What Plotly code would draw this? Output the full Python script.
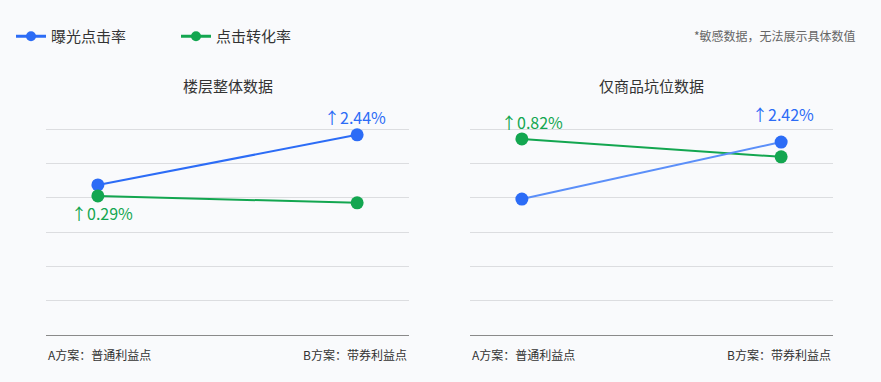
import plotly.graph_objects as go

categories = ["A方案：普通利益点", "B方案：带券利益点"]
series_names = ["曝光点击率", "点击转化率"]
# panel 1: 楼层整体数据
floor_ctr = [4.37, 5.83]
floor_cvr = [4.05, 3.85]
# panel 2: 仅商品坑位数据
item_ctr = [3.96, 5.62]
item_cvr = [5.71, 5.19]
panel_titles = ["楼层整体数据", "仅商品坑位数据"]
labels = {"floor_ctr": "↑2.44%", "floor_cvr": "↑0.29%", "item_ctr": "↑2.42%", "item_cvr": "↑0.82%"}
note = "*敏感数据，无法展示具体数值"

BLUE = "#2c6cf6"
BLUE_LIGHT = "#5b8ff9"
GREEN = "#13a650"
FONT = "Noto Sans CJK SC"
xpos = [0, 1]

fig = go.Figure()
# legend-only entries (smaller symbols)
fig.add_trace(go.Scatter(x=[None], y=[None], mode="lines+markers", name=series_names[0],
                         line=dict(color=BLUE, width=3), marker=dict(size=10, color=BLUE),
                         xaxis="x", yaxis="y", legendgroup="a"))
fig.add_trace(go.Scatter(x=[None], y=[None], mode="lines+markers", name=series_names[1],
                         line=dict(color=GREEN, width=3), marker=dict(size=10, color=GREEN),
                         xaxis="x", yaxis="y", legendgroup="b"))
fig.add_trace(go.Scatter(x=xpos, y=floor_ctr, mode="lines+markers", name=series_names[0],
                         line=dict(color=BLUE, width=2), marker=dict(size=13, color=BLUE),
                         xaxis="x", yaxis="y", legendgroup="a", showlegend=False))
fig.add_trace(go.Scatter(x=xpos, y=floor_cvr, mode="lines+markers", name=series_names[1],
                         line=dict(color=GREEN, width=2), marker=dict(size=13, color=GREEN),
                         xaxis="x", yaxis="y", legendgroup="b", showlegend=False))
fig.add_trace(go.Scatter(x=xpos, y=item_cvr, mode="lines+markers", name=series_names[1],
                         line=dict(color=GREEN, width=2), marker=dict(size=13, color=GREEN),
                         xaxis="x2", yaxis="y2", showlegend=False, legendgroup="b"))
fig.add_trace(go.Scatter(x=xpos, y=item_ctr, mode="lines+markers", name=series_names[0],
                         line=dict(color=BLUE_LIGHT, width=2), marker=dict(size=13, color=BLUE),
                         xaxis="x2", yaxis="y2", showlegend=False, legendgroup="a"))

H = 382.0
px_per_unit = (335 - 129) / 6.0
top_extra = 0.05
ydom = [(H - 335) / H, (H - 129 + top_extra * px_per_unit) / H]
axis_common = dict(range=[-0.2, 1.2], showticklabels=False, showgrid=False, zeroline=False,
                   showline=False, fixedrange=True)
yaxis_common = dict(range=[0, 6 + top_extra], dtick=1, tick0=0, showticklabels=False, showgrid=True,
                    gridcolor="#dcdde0", gridwidth=1, zeroline=True, zerolinecolor="#8a8a8a",
                    zerolinewidth=1, showline=False, domain=ydom, fixedrange=True)

fig.update_layout(
    width=881, height=382,
    margin=dict(l=0, r=0, t=0, b=0),
    paper_bgcolor="#f9fafc", plot_bgcolor="#f9fafc",
    font=dict(family=FONT, color="#333333"),
    xaxis=dict(domain=[46 / 881, 409 / 881], anchor="y", **axis_common),
    xaxis2=dict(domain=[470 / 881, 833 / 881], anchor="y2", **axis_common),
    yaxis=dict(anchor="x", **yaxis_common),
    yaxis2=dict(anchor="x2", **yaxis_common),
    showlegend=True,
    legend=dict(orientation="h", x=11 / 881, y=(H - 20) / H, xanchor="left", yanchor="top",
                font=dict(size=15, color="#333333", family=FONT),
                bgcolor="rgba(0,0,0,0)", entrywidth=120, entrywidthmode="pixels",
                itemwidth=30, tracegroupgap=0),
)

ann = []
# panel titles
for xa, t in [("x", panel_titles[0]), ("x2", panel_titles[1])]:
    ann.append(dict(text=t, xref=xa + " domain", yref="paper", x=0.5, y=(H - 85) / H,
                    showarrow=False, font=dict(size=15, color="#333333", family=FONT),
                    xanchor="center", yanchor="middle"))
# category labels
for xa in ["x", "x2"]:
    ann.append(dict(text=categories[0], xref=xa + " domain", yref="paper", x=0, y=(H - 354) / H,
                    showarrow=False, font=dict(size=12, color="#333333", family=FONT),
                    xanchor="left", yanchor="middle"))
    ann.append(dict(text=categories[1], xref=xa + " domain", yref="paper", x=1, y=(H - 354) / H,
                    showarrow=False, font=dict(size=12, color="#333333", family=FONT),
                    xanchor="right", yanchor="middle"))
# value labels
ann.append(dict(text=labels["floor_ctr"], x=xpos[1], y=floor_ctr[1], xref="x", yref="y",
                showarrow=False, yshift=18, xshift=-2, font=dict(size=16, color=BLUE, family=FONT)))
ann.append(dict(text=labels["floor_cvr"], x=xpos[0], y=floor_cvr[0], xref="x", yref="y",
                showarrow=False, yshift=-17, xshift=4, font=dict(size=16, color=GREEN, family=FONT)))
ann.append(dict(text=labels["item_cvr"], x=xpos[0], y=item_cvr[0], xref="x2", yref="y2",
                showarrow=False, yshift=17, xshift=10, font=dict(size=16, color=GREEN, family=FONT)))
ann.append(dict(text=labels["item_ctr"], x=xpos[1], y=item_ctr[1], xref="x2", yref="y2",
                showarrow=False, yshift=28, xshift=2, font=dict(size=16, color=BLUE, family=FONT)))
# note
ann.append(dict(text=note, xref="paper", yref="paper", x=858 / 881, y=(H - 35) / H,
                showarrow=False, xanchor="right", yanchor="middle",
                font=dict(size=12, color="#666666", family=FONT)))
fig.update_layout(annotations=ann)

fig.write_html("out.html", config={"displayModeBar": False},
               post_script="document.body.style.margin='0';document.body.style.background='#f9fafc';")
